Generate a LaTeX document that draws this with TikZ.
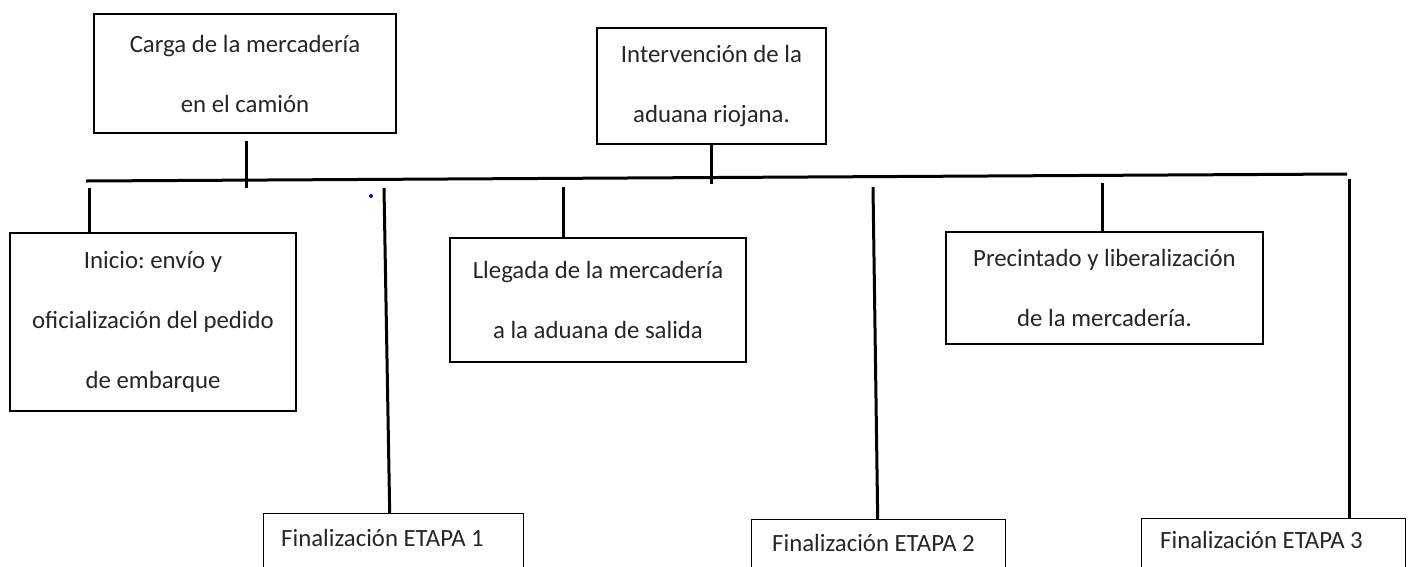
\documentclass[tikz,border=0pt]{standalone}
\usepackage{fontspec}
\setmainfont{Carlito}
\frenchspacing
\definecolor{txtc}{HTML}{262626}
\begin{document}
\begin{tikzpicture}[x=1pt,y=-1pt,
  box/.style={draw=black,line width=1.4pt,inner sep=0pt,align=center,text=txtc,
    font=\fontsize{24.8}{60}\selectfont},
  lbl/.style={inner sep=0pt,text=txtc,font=\fontsize{24.8}{30}\selectfont,anchor=west},
  conn/.style={draw=black,line width=3pt}]
\clip (0,0) rectangle (1411,566);
\fill[white] (0,0) rectangle (1411,566);
% boxes
\node[box,minimum width=302pt,minimum height=119pt] (carga) at (245,73.5) {Carga de la mercadería\\en el camión};
\node[box,minimum width=229pt,minimum height=116pt] (interv) at (711.5,86) {Intervención de la\\aduana riojana.};
\node[box,minimum width=286pt,minimum height=178pt] (inicio) at (153,322) {Inicio: envío y\\oficialización del pedido\\de embarque};
\node[box,minimum width=296pt,minimum height=124pt] (llegada) at (598,300) {Llegada de la mercadería\\a la aduana de salida};
\node[box,minimum width=317pt,minimum height=112pt] (precin) at (1104.5,288) {Precintado y liberalización\\de la mercadería.};
\node[box,anchor=north west,minimum width=260pt,minimum height=80pt] (e1) at (263,513) {};
\node[box,anchor=north west,minimum width=254pt,minimum height=80pt] (e2) at (751,519) {};
\node[box,anchor=north west,minimum width=264pt,minimum height=80pt] (e3) at (1141,518) {};
\node[lbl] (e1t) at (281,538) {Finalización ETAPA 1};
\node[lbl] (e2t) at (772,543) {Finalización ETAPA 2};
\node[lbl] (e3t) at (1160,540) {Finalización ETAPA 3};
% main line
\coordinate (L) at (86,181);
\coordinate (R) at (1347,174);
\draw[conn] (L) -- (R);
% connector ends
\coordinate (cA) at (246,188);
\coordinate (cB) at (711,184);
\coordinate (cI) at (89,188);
\coordinate (c1) at (384,188);
\coordinate (cL) at (563,187);
\coordinate (c2) at (873,187);
\coordinate (cP) at (1102,183);
\coordinate (c3) at (1349,179);
\draw[conn] ([yshift=-7pt]carga.south -| cA) -- (cA);
\draw[conn] (interv.south -| cB) -- (cB);
\draw[conn] (cI) -- (cI |- inicio.north);
\draw[conn] (c1) -- ([xshift=-4pt]e1.north);
\draw[conn] (cL) -- (cL |- llegada.north);
\draw[conn] (c2) -- ([xshift=-1pt]e2.north);
\draw[conn] (cP) -- (cP |- precin.north);
\draw[conn] (c3) -- (c3 |- e3.north);
% stray dot
\fill[blue] (371,196) circle (2pt);
\end{tikzpicture}
\end{document}
